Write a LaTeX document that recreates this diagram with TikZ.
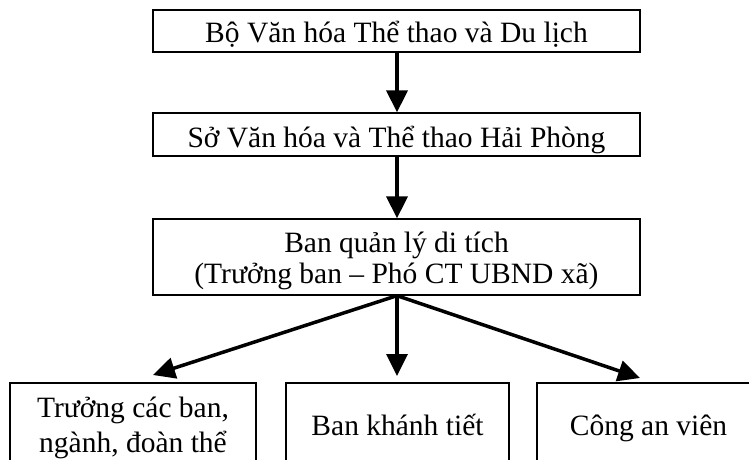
\documentclass[tikz,border=0pt]{standalone}
\usepackage{fontspec}
\setmainfont{Liberation Serif}
\usetikzlibrary{arrows.meta}
\begin{document}
\begin{tikzpicture}[x=1pt,y=-1pt,
  box/.style={draw, line width=1.3pt, inner sep=0pt},
  lbl/.style={inner sep=0pt, anchor=base, font=\fontsize{29.5}{36}\selectfont},
  arr/.style={line width=3.5pt, -{Triangle[length=22pt,width=21pt]}}]
\useasboundingbox (0,0) rectangle (749,460);
\fill[white] (0,0) rectangle (749,460);
\node[box, minimum width=487pt, minimum height=42pt] (a) at (396.5,31) {};
\node[box, minimum width=487pt, minimum height=43pt] (b) at (396.5,134.5) {};
\node[box, minimum width=487pt, minimum height=76pt] (c) at (396.5,257) {};
\node[box, minimum width=246pt, minimum height=92pt] (d) at (133,429) {};
\node[box, minimum width=223pt, minimum height=92pt] (e) at (397.5,429) {};
\node[box, minimum width=223pt, minimum height=92pt] (f) at (648.5,429) {};
\node[lbl] (at) at (396.5,43) {Bộ Văn hóa Thể thao và Du lịch};
\node[lbl] (bt) at (396.5,147) {Sở Văn hóa và Thể thao Hải Phòng};
\node[lbl] (ct1) at (396.5,252) {Ban quản lý di tích};
\node[lbl] (ct2) at (396.5,283) {(Trưởng ban – Phó CT UBND xã)};
\node[lbl] (dt1) at (133,417) {Trưởng các ban,};
\node[lbl] (dt2) at (133,452) {ngành, đoàn thể};
\node[lbl] (et) at (397.5,435) {Ban khánh tiết};
\node[lbl] (ft) at (648.5,435) {Công an viên};
\coordinate (td) at (153,375);
\coordinate (te) at (397,376);
\coordinate (tf) at (640,378);
\draw[arr] (a.south -| 397,0) -- (b.north -| 397,0);
\draw[arr] (b.south -| 397,0) -- (c.north -| 397,0);
\draw[arr] (c.south -| 397,0) -- (td);
\draw[arr] (c.south -| 397,0) -- (te);
\draw[arr] (c.south -| 397,0) -- (tf);
\end{tikzpicture}
\end{document}
